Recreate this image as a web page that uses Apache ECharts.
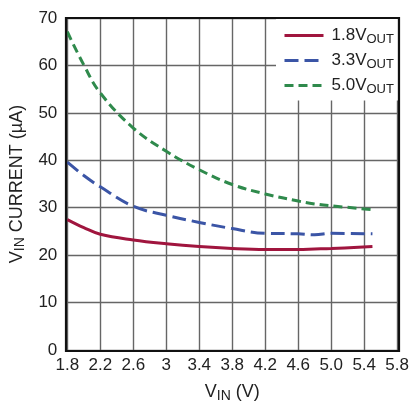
<!DOCTYPE html>
<html>
<head>
<meta charset="utf-8">
<script src="https://cdn.jsdelivr.net/npm/echarts@6/dist/echarts.min.js"></script>
<style>
html,body{margin:0;padding:0;background:#fff;}
#c{width:412px;height:408px;}
</style>
</head>
<body>
<div id="c"></div>
<script>
// ---- data ----
var vin = [1.8, 2.0, 2.2, 2.6, 3.0, 3.4, 3.8, 4.2, 4.6, 4.8, 5.0, 5.5];
var i18 = [27.5, 25.8, 24.4, 23.2, 22.4, 21.8, 21.4, 21.2, 21.2, 21.3, 21.4, 21.8];
var i33 = [39.6, 36.8, 34.4, 30.3, 28.4, 26.9, 25.6, 24.6, 24.5, 24.3, 24.6, 24.5];
var i50 = [67.1, 60.1, 54.2, 46.8, 41.9, 38.0, 34.9, 32.9, 31.4, 30.8, 30.4, 29.6];
var seriesNames = ['1.8V', '3.3V', '5.0V'];
var xTickLabels = ['1.8','2.2','2.6','3','3.4','3.8','4.2','4.6','5.0','5.4','5.8'];
var yTickLabels = ['0','10','20','30','40','50','60','70'];
var xStart = 1.8, xStep = 0.4;

function pts(ys){
  return vin.map(function(v,i){ return [v - xStart, ys[i]]; });
}
var FONT = '"Liberation Sans", Arial, sans-serif';
var chart = echarts.init(document.getElementById('c'), null, {renderer:'canvas'});
var rich = {
  a:{fontSize:17, fontFamily:FONT, color:'#222'},
  b:{fontSize:13, fontFamily:FONT, color:'#222', padding:[7,0,0,0]}
};
chart.setOption({
  animation:false,
  backgroundColor:'#fff',
  grid:{left:66, top:18, width:333, height:333, containLabel:false},
  legend:{
    orient:'vertical', left:276, top:19, padding:[8,4,5,7],
    backgroundColor:'#fff', itemWidth:39, itemHeight:14, itemGap:6.5,
    data: seriesNames,
    itemStyle:{opacity:0},
    lineStyle:{width:3},
    formatter:function(n){ return '{a|' + n + '}{b|OUT}'; },
    textStyle:{rich:rich, padding:[0,0,0,3]}
  },
  xAxis:{
    type:'value', min:0, max:4, interval:xStep,
    axisLine:{show:false}, axisTick:{show:false},
    splitLine:{show:true, lineStyle:{color:'#666', width:1.4}},
    axisLabel:{
      margin:7, fontSize:17, fontFamily:FONT, color:'#222',
      formatter:function(v){ return xTickLabels[Math.round(v/xStep)]; }
    },
    name:'{a|V}{s|IN}{a| (V)}', nameLocation:'middle', nameGap:32,
    nameTextStyle:{rich:{
      a:{fontSize:18, fontFamily:FONT, color:'#222'},
      s:{fontSize:14, fontFamily:FONT, color:'#222', padding:[7,0,0,0]}
    }}
  },
  yAxis:{
    type:'value', min:0, max:70, interval:10,
    axisLine:{show:false}, axisTick:{show:false},
    splitLine:{show:true, lineStyle:{color:'#666', width:1.4}},
    axisLabel:{
      margin:10, fontSize:17, fontFamily:FONT, color:'#222',
      formatter:function(v){ return yTickLabels[Math.round(v/10)]; }
    },
    name:'{a|V}{s|IN}{a| CURRENT (µA)}', nameLocation:'middle', nameGap:31,
    nameTextStyle:{rich:{
      a:{fontSize:18, fontFamily:FONT, color:'#222'},
      s:{fontSize:14, fontFamily:FONT, color:'#222', padding:[7,0,0,0]}
    }}
  },
  graphic:[{
    type:'rect', z:100, silent:true,
    shape:{x:66, y:18, width:333, height:333},
    style:{fill:'none', stroke:'#111', lineWidth:2.2}
  }],
  series:[
    {name:seriesNames[0], type:'line', data:pts(i18), smooth:0.4, symbol:'none',
     lineStyle:{color:'#a0153e', width:3}, itemStyle:{color:'#a0153e'}},
    {name:seriesNames[1], type:'line', data:pts(i33), smooth:0.4, symbol:'none',
     lineStyle:{color:'#3b55a6', width:3, type:[14,6]}, itemStyle:{color:'#3b55a6'}},
    {name:seriesNames[2], type:'line', data:pts(i50), smooth:0.4, symbol:'none',
     lineStyle:{color:'#2f8a4c', width:3, type:[9,5]}, itemStyle:{color:'#2f8a4c'}}
  ]
});
</script>
</body>
</html>
